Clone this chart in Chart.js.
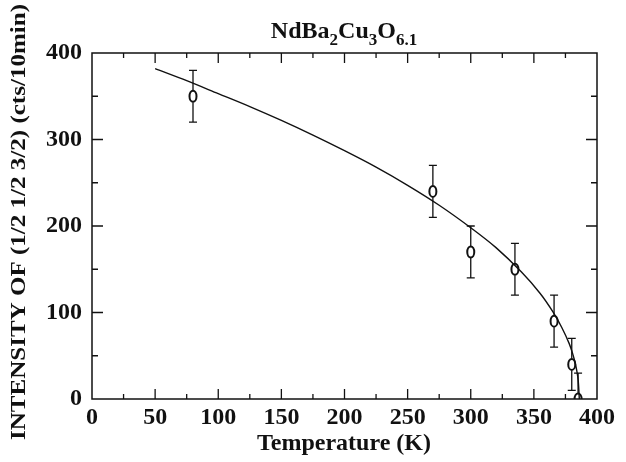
<!DOCTYPE html>
<html><head><meta charset="utf-8">
<script src="https://cdn.jsdelivr.net/npm/chart.js@4/dist/chart.umd.min.js"></script>
<style>html,body{margin:0;padding:0;background:#fff}#wrap{width:626px;height:462px}</style>
</head><body><div id="wrap"><canvas id="c" width="626" height="462"></canvas></div>
<script>
const temperatures = [80, 270, 300, 335, 366, 380, 385];
const intensities = [350, 240, 170, 150, 90, 40, 0];
const errors = [30, 30, 30, 30, 30, 30, 30];
const fitTemperatures = [50, 75, 100, 125, 150, 175, 200, 225, 250, 275, 300, 320, 340, 355, 365, 372, 378, 381, 383, 385, 386];
const fitIntensities = [382, 368, 353, 338, 322, 305, 287, 268, 247, 224, 198, 175, 147, 122, 101, 83, 64, 51, 40, 23, 0];
const xTickValues = [0, 50, 100, 150, 200, 250, 300, 350, 400];
const yTickValues = [0, 100, 200, 300, 400];
const titleParts = [["NdBa", false], ["2", true], ["Cu", false], ["3", true], ["O", false], ["6.1", true]];
const xTitle = "Temperature (K)";
const yTitle = "INTENSITY OF (1/2 1/2 3/2) (cts/10min)";

const FONT = '"Liberation Serif", "DejaVu Serif", serif';
const INK = '#111';

const framePlugin = {
  id: 'frame',
  afterDraw(chart) {
    const ctx = chart.ctx, a = chart.chartArea;
    const xs = chart.scales.x, ys = chart.scales.y;
    ctx.save();
    ctx.strokeStyle = INK;
    ctx.lineWidth = 1.5;
    ctx.strokeRect(a.left, a.top, a.right - a.left, a.bottom - a.top);
    ctx.lineWidth = 1.3;
    ctx.beginPath();
    for (let v = 25; v < 400; v += 25) {
      const px = xs.getPixelForValue(v);
      const len = (v % 50 === 0) ? 10 : 5;
      ctx.moveTo(px, a.bottom); ctx.lineTo(px, a.bottom - len);
      ctx.moveTo(px, a.top); ctx.lineTo(px, a.top + len);
    }
    for (let v = 50; v < 400; v += 50) {
      const py = ys.getPixelForValue(v);
      const len = (v % 100 === 0) ? 11 : 6;
      ctx.moveTo(a.left, py); ctx.lineTo(a.left + len, py);
      ctx.moveTo(a.right, py); ctx.lineTo(a.right - len, py);
    }
    ctx.stroke();

    // error bars and open markers
    const meta = chart.getDatasetMeta(1);
    ctx.save();
    ctx.beginPath();
    ctx.rect(a.left, a.top, a.right - a.left, a.bottom - a.top);
    ctx.clip();
    ctx.lineWidth = 1.3;
    meta.data.forEach((pt, i) => {
      const x = pt.x, y = pt.y;
      const yHi = ys.getPixelForValue(intensities[i] + errors[i]);
      const yLo = ys.getPixelForValue(intensities[i] - errors[i]);
      ctx.beginPath();
      ctx.moveTo(x, yHi); ctx.lineTo(x, y - 6);
      ctx.moveTo(x, y + 6); ctx.lineTo(x, yLo);
      ctx.moveTo(x - 4, yHi); ctx.lineTo(x + 4, yHi);
      ctx.moveTo(x - 4, yLo); ctx.lineTo(x + 4, yLo);
      ctx.stroke();
      ctx.beginPath();
      ctx.lineWidth = 2;
      ctx.ellipse(x, y, 3.5, 5.5, 0, 0, Math.PI * 2);
      ctx.stroke();
      ctx.lineWidth = 1.3;
    });
    ctx.restore();

    // title with subscripts
    ctx.fillStyle = INK;
    ctx.textBaseline = 'alphabetic';
    const mainF = 'bold 24px ' + FONT, subF = 'bold 17px ' + FONT;
    let total = 0;
    titleParts.forEach(([t, sub]) => { ctx.font = sub ? subF : mainF; total += ctx.measureText(t).width; });
    let tx = 344 - total / 2;
    titleParts.forEach(([t, sub]) => {
      ctx.font = sub ? subF : mainF;
      ctx.textAlign = 'left';
      ctx.fillText(t, tx, sub ? 45 : 38);
      tx += ctx.measureText(t).width;
    });

    // x title
    ctx.font = 'bold 24px ' + FONT;
    ctx.textAlign = 'center';
    ctx.fillText(xTitle, 344, 450);

    // y title (rotated)
    ctx.save();
    ctx.translate(25, 222);
    ctx.rotate(-Math.PI / 2);
    ctx.font = 'bold 22px ' + FONT;
    const w = ctx.measureText(yTitle).width;
    const target = 436;
    ctx.scale(target / w, 1);
    ctx.textAlign = 'center';
    ctx.fillText(yTitle, 0, 0);
    ctx.restore();
    ctx.restore();
  }
};

new Chart(document.getElementById('c'), {
  type: 'scatter',
  data: {
    datasets: [
      {
        data: fitTemperatures.map((t, i) => ({ x: t, y: fitIntensities[i] })),
        showLine: true, borderColor: INK, borderWidth: 1.4, pointRadius: 0, tension: 0.3, fill: false
      },
      {
        data: temperatures.map((t, i) => ({ x: t, y: intensities[i] })),
        showLine: false, pointRadius: 0, borderColor: INK
      }
    ]
  },
  options: {
    responsive: false,
    animation: false,
    devicePixelRatio: 1,
    layout: { padding: { left: 0, top: 53, right: 29, bottom: 0 } },
    plugins: { legend: { display: false }, tooltip: { enabled: false }, title: { display: false } },
    scales: {
      x: {
        type: 'linear', min: 0, max: 400,
        afterBuildTicks: s => { s.ticks = xTickValues.map(v => ({ value: v })); },
        afterFit: s => { s.height = 63; },
        grid: { display: false, drawTicks: false },
        border: { display: false },
        ticks: { color: INK, font: { family: FONT, size: 24, weight: 'bold' }, padding: 4, maxRotation: 0, autoSkip: false }
      },
      y: {
        type: 'linear', min: 0, max: 400,
        afterBuildTicks: s => { s.ticks = yTickValues.map(v => ({ value: v })); },
        afterFit: s => { s.width = 92; },
        grid: { display: false, drawTicks: false },
        border: { display: false },
        ticks: { color: INK, font: { family: FONT, size: 24, weight: 'bold' }, padding: 10, autoSkip: false }
      }
    }
  },
  plugins: [framePlugin]
});
</script>
</body></html>
